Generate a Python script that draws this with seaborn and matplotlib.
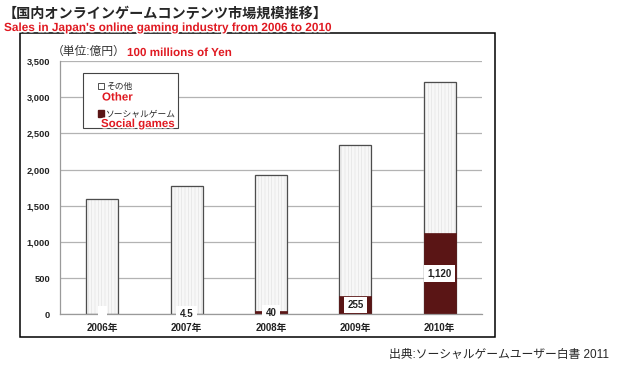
import numpy as np
import pandas as pd
import seaborn as sns
import matplotlib.pyplot as plt
import matplotlib.patheffects as pe
from matplotlib.patches import Rectangle, Patch

# values (100 millions of Yen)
years = ['2006年', '2007年', '2008年', '2009年', '2010年']
total = [1590, 1770, 1930, 2335, 3205]
social = [0, 4.5, 40, 255, 1120]
social_labels = [' ', '4.5', '40', '255', '1,120']
yticks = [0, 500, 1000, 1500, 2000, 2500, 3000, 3500]

df = pd.DataFrame({'year': years, 'total': total, 'social': social})

sns.set_style('white')
plt.rcParams['font.family'] = ['Liberation Sans', 'Noto Sans CJK JP']
plt.rcParams['hatch.linewidth'] = 0.4

RED = '#e01a22'
DARK = '#5a1515'
red_fx = [pe.withStroke(linewidth=2.2, foreground='white')]

fig = plt.figure(figsize=(6.2, 3.69), dpi=100)
ax = fig.add_axes([60 / 620, 1 - 314.3 / 369, 422 / 620, 253.3 / 369])
ax.set_axisbelow(True)

# "other" part: full bar with faint stripes, then the outline
sns.barplot(data=df, x='year', y='total', color='#f7f7f7', saturation=1, width=0.38,
            hatch='|||||', edgecolor='#dedede', linewidth=0.3, ax=ax)
sns.barplot(data=df, x='year', y='total', fill=False, color='#4d4d4d', width=0.38,
            linewidth=0.9, ax=ax)
# social games from the bottom
sns.barplot(data=df, x='year', y='social', color=DARK, saturation=1, width=0.38,
            edgecolor=DARK, linewidth=0.5, ax=ax)
ax.bar_label(ax.containers[-1], labels=social_labels, label_type='center', fontsize=7,
             fontweight='bold', color='#222', bbox=dict(fc='white', ec='none', pad=2.4))

ax.set_xlim(-0.5, 4.5)
ax.set_ylim(0, 3500)
ax.set_yticks(yticks)
ax.set_yticklabels([f'{v:,}' for v in yticks])
ax.set_xlabel('')
ax.set_ylabel('')
ax.yaxis.grid(True, color='#b3b3b3', lw=0.9)
sns.despine(ax=ax, top=True, right=True)
for s in ['left', 'bottom']:
    ax.spines[s].set_color('#9a9a9a')
    ax.spines[s].set_linewidth(0.9)
ax.tick_params(axis='y', length=0, pad=7, labelsize=6.7, labelcolor='#222')
ax.tick_params(axis='x', which='major', length=0, pad=6, labelsize=7, labelcolor='#222')
for t in ax.get_xticklabels() + ax.get_yticklabels():
    t.set_fontweight('bold')
ax.set_xticks(np.arange(-0.5, 5, 1), minor=True)
ax.tick_params(axis='x', which='minor', length=3, color='#9a9a9a', width=0.8)

# legend box
ax.add_patch(Rectangle((0.0545, 0.7355), 0.225, 0.2175, transform=ax.transAxes,
                       fc='white', ec='#444', lw=0.8, zorder=3))
handles = [Patch(fc='white', ec='#333', lw=0.6), Patch(fc=DARK, ec=DARK)]
leg = ax.legend(handles, ['その他', 'ソーシャルゲーム'], frameon=False, loc='upper left',
                bbox_to_anchor=(0.075, 0.94), fontsize=6.3, labelspacing=2.07,
                handlelength=0.75, handleheight=0.75, handletextpad=0.2, borderpad=0.2)
leg.set_zorder(4)
fig.text(102 / 620, 1 - 97.5 / 369, 'Other', color=RED, fontsize=8.3, fontweight='bold',
         va='center', path_effects=red_fx, zorder=5)
fig.text(101 / 620, 1 - 124 / 369, 'Social games', color=RED, fontsize=8.3,
         fontweight='bold', va='center', path_effects=red_fx, zorder=5)

# outer frame
fig.add_artist(Rectangle((20 / 620, 1 - 337 / 369), 475 / 620, 304 / 369,
                         transform=fig.transFigure, fill=False, ec='black', lw=1.1))

fig.text(3 / 620, 1 - 14 / 369, '【国内オンラインゲームコンテンツ市場規模推移】',
         fontsize=10.2, fontweight='bold', va='center')
fig.text(4 / 620, 1 - 28 / 369, "Sales in Japan's online gaming industry from 2006 to 2010",
         color=RED, fontsize=8.5, fontweight='bold', va='center', path_effects=red_fx)
fig.text(52 / 620, 1 - 52 / 369, '（単位:億円）', fontsize=8.5, color='#333', va='center')
fig.text(127 / 620, 1 - 53 / 369, '100 millions of Yen', color=RED, fontsize=8.4,
         fontweight='bold', va='center', path_effects=red_fx)
fig.text(609 / 620, 1 - 355 / 369, '出典:ソーシャルゲームユーザー白書 2011',
         fontsize=8.5, ha='right', va='center')

fig.savefig('out.png', dpi=100)
